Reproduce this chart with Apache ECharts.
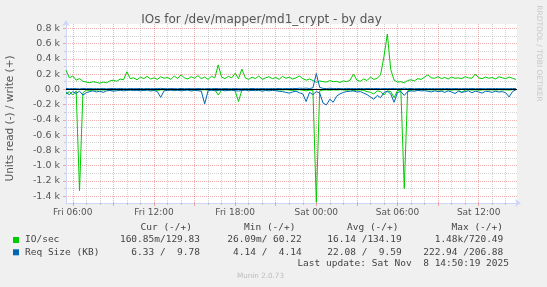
<!DOCTYPE html>
<html>
<head>
<meta charset="utf-8">
<script src="https://cdn.jsdelivr.net/npm/echarts@6/dist/echarts.min.js"></script>
<style>
html,body{margin:0;padding:0;background:#f0f0f0;}
#c{width:547px;height:287px;}
</style>
</head>
<body>
<div id="c"></div>
<script>
// time axis in hours since Fri 2025-11-07 00:00
const X_START_H = 5.5;
const X_END_H = 38 + 50 / 60;   // Sat 14:50
const STEP_H = 0.25;            // one sample every 15 min

const hourLabels = [6, 12, 18, 24, 30, 36];
const majorHours = [6, 9, 12, 15, 18, 21, 24, 27, 30, 33, 36];
const minorHours = [7, 8, 10, 11, 13, 14, 16, 17, 19, 20, 22, 23, 25, 26, 28, 29, 31, 32, 34, 35, 37, 38];
const yMajor = [-1400, -1200, -1000, -800, -600, -400, -200, 0, 200, 400, 600, 800];
const yMinor = [-1300, -1100, -900, -700, -500, -300, -100, 100, 300, 500, 700];

// IO/sec write (+)
const ioWrite = [
  250, 150, 175, 120, 140, 105, 95, 85, 100, 90,
  80, 95, 85, 110, 120, 105, 135, 125, 230, 140,
  150, 125, 160, 140, 170, 135, 150, 130, 165, 145,
  155, 130, 175, 140, 190, 150, 135, 165, 145, 180,
  140, 160, 130, 170, 150, 320, 160, 140, 170, 150,
  210, 140, 265, 150, 130, 160, 140, 175, 130, 150,
  165, 140, 155, 130, 170, 145, 160, 135, 150, 175,
  140, 120, 135, 115, 90, 110, 100, 95, 115, 100,
  105, 90, 110, 100, 120, 200, 120, 105, 135, 115,
  160, 130, 145, 190, 430, 725, 260, 120, 95, 100,
  85, 115, 125, 110, 140, 130, 160, 190, 150, 145,
  165, 140, 155, 135, 160, 145, 150, 140, 165, 150,
  145, 200, 150, 140, 160, 145, 155, 135, 165, 150,
  140, 160, 145, 129.83
];
// IO/sec read (-)
const ioRead = [
  -60, -30, -75, -20, -1330, -45, -10, -15, -8, -12,
  -5, -10, -6, -15, -8, -5, -12, -6, -10, -8,
  -5, -10, -7, -12, -6, -9, -5, -15, -8, -6,
  -10, -5, -8, -12, -6, -10, -5, -8, -14, -6,
  -9, -5, -12, -8, -6, -75, -10, -6, -12, -8,
  -20, -160, -10, -6, -8, -12, -5, -9, -6, -10,
  -8, -5, -12, -6, -9, -5, -10, -15, -8, -6,
  -12, -20, -10, -15, -1480, -20, -10, -8, -12, -6,
  -10, -5, -8, -12, -6, -20, -10, -8, -15, -30,
  -40, -60, -20, -30, -75, -20, -30, -110, -15, -10,
  -1300, -20, -10, -8, -12, -6, -9, -5, -10, -8,
  -6, -12, -5, -8, -10, -6, -9, -40, -8, -5,
  -10, -6, -12, -8, -5, -9, -6, -10, -5, -8,
  -6, -10, -5, -0.16
];
// Req Size (KB) write (+)
const reqWrite = [
  12, 8, 10, 9, 6, 11, 8, 10, 7, 9,
  8, 10, 7, 9, 11, 8, 10, 9, 7, 10,
  9, 8, 11, 7, 10, 9, 8, 10, 12, 9,
  8, 10, 9, 7, 11, 8, 10, 9, 8, 10,
  9, 7, 10, 8, 11, 9, 8, 10, 9, 8,
  10, 9, 7, 10, 8, 11, 9, 8, 10, 9,
  8, 10, 9, 11, 8, 10, 9, 12, 10, 14,
  12, 15, 10, 20, 207, 25, 12, 10, 14, 9,
  11, 10, 8, 12, 9, 10, 8, 11, 9, 10,
  12, 9, 11, 8, 10, 9, 11, 10, 8, 10,
  14, 9, 11, 8, 10, 9, 11, 8, 10, 9,
  8, 10, 9, 11, 8, 10, 9, 8, 10, 9,
  11, 8, 10, 9, 8, 10, 9, 11, 8, 10,
  9, 8, 10, 9.78
];
// Req Size (KB) read (-)
const reqRead = [
  -40, -70, -30, -55, -25, -75, -45, -30, -20, -35,
  -25, -40, -20, -15, -25, -18, -12, -20, -15, -10,
  -18, -12, -20, -15, -10, -22, -15, -30, -105, -20,
  -15, -10, -18, -12, -20, -15, -10, -22, -14, -18,
  -25, -190, -20, -12, -18, -15, -10, -20, -14, -12,
  -18, -22, -15, -10, -20, -14, -18, -12, -25, -15,
  -20, -14, -18, -25, -30, -40, -50, -35, -25, -45,
  -60, -160, -40, -70, -30, -50, -180, -205, -130, -170,
  -90, -60, -40, -30, -25, -20, -35, -30, -50, -70,
  -100, -130, -80, -110, -40, -25, -60, -170, -40, -30,
  -80, -30, -20, -25, -15, -20, -18, -25, -35, -20,
  -30, -25, -40, -20, -35, -55, -25, -40, -30, -20,
  -45, -25, -35, -50, -25, -30, -40, -25, -35, -30,
  -45, -100, -30, -6.33
];

const legendHeaders = ['Cur (-/+)', 'Min (-/+)', 'Avg (-/+)', 'Max (-/+)'];
const legendRows = [
  { name: 'IO/sec', color: '#00cc00', vals: ['160.85m/129.83', '26.09m/ 60.22', '16.14 /134.19', '1.48k/720.49'] },
  { name: 'Req Size (KB)', color: '#0066b3', vals: ['6.33 /  9.78', '4.14 /  4.14', '22.08 /  9.59', '222.94 /206.88'] }
];
const lastUpdate = 'Last update: Sat Nov  8 14:50:19 2025';

const pair = arr => arr.map((v, i) => [X_START_H + i * STEP_H, v]);

const GRID_L = 66, GRID_T = 24, GRID_W = 451, GRID_H = 179;
const MINOR = 'rgba(143,143,143,0.4)';
const MAJOR = 'rgba(222,79,79,0.45)';
const AXIS = '#cfd6f8';
const TXT = '#555';
const MONO = '"DejaVu Sans Mono", monospace';
const SANS = '"DejaVu Sans", sans-serif';

const pad = n => (n < 10 ? '0' : '') + n;

const chart = echarts.init(document.getElementById('c'), null, { renderer: 'canvas' });

const headerEnds = [192, 295.5, 398.5, 503];
const valueEnds = [200, 301.7, 401.7, 503.3];
const rowY = [240, 252.3];

const graphics = [];
graphics.push({ type: 'text', silent: true, style: { text: 'IOs for /dev/mapper/md1_crypt - by day', x: 261.5, y: 19.5, font: '12px ' + SANS, fill: TXT, align: 'center', verticalAlign: 'middle' } });
graphics.push({ type: 'text', silent: true, x: 10, y: 118.5, rotation: Math.PI / 2, style: { text: 'Units read (-) / write (+)', x: 0, y: 0, font: '10.5px ' + SANS, fill: TXT, align: 'center', verticalAlign: 'middle' } });
graphics.push({ type: 'text', silent: true, x: 538.5, y: 53.5, rotation: -Math.PI / 2, style: { text: 'RRDTOOL / TOBI OETIKER', x: 0, y: 0, font: '7.5px ' + SANS, fill: '#c8c8c8', align: 'center', verticalAlign: 'middle' } });
legendHeaders.forEach((h, k) => {
  graphics.push({ type: 'text', silent: true, style: { text: h, x: headerEnds[k], y: 227.5, font: '9.5px ' + MONO, fill: '#444', align: 'right', verticalAlign: 'middle' } });
});
legendRows.forEach((r, j) => {
  graphics.push({ type: 'rect', silent: true, shape: { x: 13, y: rowY[j] - 3, width: 6, height: 6 }, style: { fill: r.color } });
  graphics.push({ type: 'text', silent: true, style: { text: r.name, x: 25, y: rowY[j], font: '9.5px ' + MONO, fill: '#444', align: 'left', verticalAlign: 'middle' } });
  r.vals.forEach((v, k) => {
    graphics.push({ type: 'text', silent: true, style: { text: v, x: valueEnds[k], y: rowY[j], font: '9.5px ' + MONO, fill: '#444', align: 'right', verticalAlign: 'middle' } });
  });
});
graphics.push({ type: 'text', silent: true, style: { text: lastUpdate, x: 509, y: 263.5, font: '9.5px ' + MONO, fill: '#444', align: 'right', verticalAlign: 'middle' } });
graphics.push({ type: 'text', silent: true, style: { text: 'Munin 2.0.73', x: 260.5, y: 276.3, font: '7.2px ' + SANS, fill: '#bbbbbb', align: 'center', verticalAlign: 'middle' } });

const lineSeries = (data, color, extra) => Object.assign({
  type: 'line', data: pair(data), xAxisIndex: 1, yAxisIndex: 1,
  showSymbol: false, symbol: 'none', silent: true, animation: false,
  lineStyle: { color: color, width: 1 }, emphasis: { disabled: true }, clip: true
}, extra || {});

chart.setOption({
  backgroundColor: '#f0f0f0',
  animation: false,
  grid: { left: GRID_L, top: GRID_T, width: GRID_W, height: GRID_H, show: true, backgroundColor: '#ffffff', borderWidth: 0, containLabel: false, outerBoundsMode: 'none' },
  xAxis: [
    {
      type: 'value', min: X_START_H, max: X_END_H, position: 'bottom',
      axisLine: { show: false, onZero: false },
      axisTick: { show: true, customValues: minorHours, length: 2, lineStyle: { color: MINOR } },
      axisLabel: { show: false, customValues: minorHours },
      splitLine: { show: true, lineStyle: { color: MINOR, width: 1, type: [1, 1] } }
    },
    {
      type: 'value', min: X_START_H, max: X_END_H, position: 'bottom',
      axisLine: { show: true, onZero: false, lineStyle: { color: AXIS, width: 1 }, symbol: ['none', 'arrow'], symbolSize: [6, 6], symbolOffset: [0, 4] },
      axisTick: { show: true, customValues: majorHours, length: 3, lineStyle: { color: MAJOR } },
      axisLabel: {
        customValues: hourLabels, margin: 5.5, fontSize: 9, fontFamily: 'DejaVu Sans', color: TXT,
        formatter: v => (v >= 24 ? 'Sat ' : 'Fri ') + pad(v % 24) + ':00'
      },
      splitLine: { show: true, lineStyle: { color: MAJOR, width: 1, type: [1, 1] } }
    }
  ],
  yAxis: [
    {
      type: 'value', min: -1490, max: 856, position: 'left',
      axisLine: { show: false, onZero: false },
      axisTick: { show: true, customValues: yMinor, length: 2, lineStyle: { color: MINOR } },
      axisLabel: { show: false, customValues: yMinor },
      splitLine: { show: true, lineStyle: { color: MINOR, width: 1, type: [1, 1] } }
    },
    {
      type: 'value', min: -1490, max: 856, position: 'left',
      axisLine: { show: true, onZero: false, lineStyle: { color: AXIS, width: 1 }, symbol: ['none', 'arrow'], symbolSize: [6, 6], symbolOffset: [0, 4] },
      axisTick: { show: true, customValues: yMajor, length: 3, lineStyle: { color: MAJOR } },
      axisLabel: {
        customValues: yMajor, margin: 6, fontSize: 9.5, fontFamily: 'DejaVu Sans', color: TXT,
        formatter: v => v === 0 ? '0.0' : (v / 1000).toFixed(1) + ' k'
      },
      splitLine: { show: true, lineStyle: { color: MAJOR, width: 1, type: [1, 1] } }
    }
  ],
  series: [
    lineSeries(ioRead, '#00cc00'),
    lineSeries(ioWrite, '#00cc00'),
    lineSeries(reqRead, '#0066b3'),
    lineSeries(reqWrite, '#0066b3', {
      markLine: {
        silent: true, animation: false, symbol: ['none', 'none'], label: { show: false },
        lineStyle: { color: '#000000', width: 1, type: 'solid' }, emphasis: { disabled: true },
        data: [{ yAxis: 0 }]
      }
    })
  ],
  graphic: graphics
});
</script>
</body>
</html>
